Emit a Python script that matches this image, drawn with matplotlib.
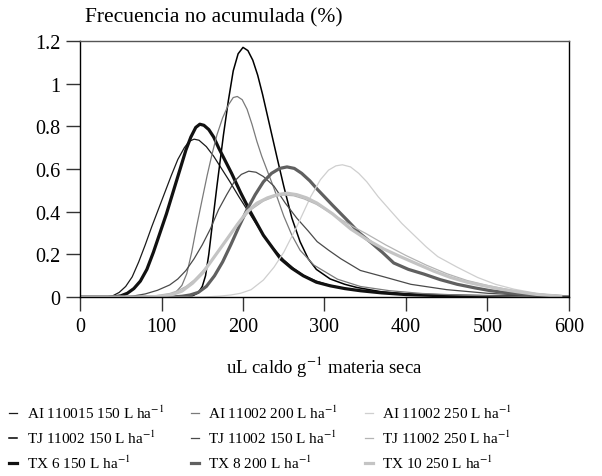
import matplotlib
matplotlib.use("Agg")
import matplotlib.pyplot as plt
from matplotlib.ticker import FuncFormatter

plt.rcParams['font.family'] = ['Liberation Serif', 'DejaVu Serif']
plt.rcParams['mathtext.fontset'] = 'stix'

# data (x in uL/g, y in %)
labels = ['AI 110015 150 L ha$^{-1}$', 'TJ 11002 150 L ha$^{-1}$', 'TX 6 150 L ha$^{-1}$',
          'AI 11002 200 L ha$^{-1}$', 'TJ 11002 150 L ha$^{-1}$', 'TX 8 200 L ha$^{-1}$',
          'AI 11002 250 L ha$^{-1}$', 'TJ 11002 250 L ha$^{-1}$', 'TX 10 250 L ha$^{-1}$']

ai110015_x = [0, 30, 40, 48, 56, 64, 72, 80, 88, 96, 104, 112, 120, 128, 134, 140, 146, 155, 164,
              174, 184, 195, 205, 215, 225, 237, 250, 262, 275, 290, 305, 325, 350, 380, 420,
              470, 530, 600]
ai110015_y = [0, 0, 0.006, 0.022, 0.05, 0.095, 0.165, 0.245, 0.33, 0.41, 0.49, 0.57, 0.645, 0.70,
              0.73, 0.74, 0.735, 0.705, 0.66, 0.60, 0.54, 0.47, 0.41, 0.35, 0.29, 0.23, 0.175,
              0.135, 0.10, 0.075, 0.057, 0.04, 0.028, 0.018, 0.01, 0.005, 0.002, 0]

tj150_x = [0, 125, 138, 145, 150, 154, 158, 162, 168, 176, 182, 188, 194, 200, 206, 212, 218, 224,
           230, 236, 242, 250, 260, 270, 280, 290, 307, 325, 340, 370, 400, 450, 500, 600]
tj150_y = [0, 0, 0.006, 0.02, 0.05, 0.1, 0.2, 0.33, 0.52, 0.76, 0.92, 1.06, 1.14, 1.17, 1.155,
           1.11, 1.04, 0.95, 0.85, 0.75, 0.65, 0.52, 0.37, 0.26, 0.18, 0.13, 0.085, 0.06, 0.045,
           0.025, 0.015, 0.007, 0.004, 0]

tx6_x = [0, 40, 50, 58, 66, 74, 82, 90, 98, 106, 114, 122, 130, 136, 142, 147, 152, 158, 164,
         170, 178, 186, 197, 209, 225, 246, 260, 274, 290, 307, 325, 344, 370, 400, 450, 500,
         550, 600]
tx6_y = [0, 0, 0.006, 0.018, 0.04, 0.075, 0.13, 0.21, 0.30, 0.39, 0.49, 0.59, 0.69, 0.75, 0.795,
         0.81, 0.805, 0.785, 0.75, 0.70, 0.64, 0.58, 0.49, 0.40, 0.29, 0.18, 0.135, 0.10, 0.07,
         0.053, 0.04, 0.03, 0.02, 0.012, 0.006, 0.003, 0.001, 0]

ai200_x = [0, 95, 110, 118, 125, 131, 137, 143, 150, 156, 162, 168, 175, 182, 188, 193, 199, 205,
           211, 217, 223, 230, 238, 250, 260, 270, 287, 316, 344, 380, 420, 470, 530, 600]
ai200_y = [0, 0, 0.008, 0.025, 0.055, 0.11, 0.21, 0.33, 0.46, 0.57, 0.67, 0.76, 0.84, 0.90,
           0.935, 0.94, 0.925, 0.88, 0.81, 0.73, 0.66, 0.59, 0.51, 0.38, 0.29, 0.22, 0.15, 0.084,
           0.05, 0.03, 0.017, 0.009, 0.004, 0]

tj150b_x = [0, 50, 65, 80, 95, 110, 120, 130, 140, 150, 160, 170, 180, 190, 198, 207, 216, 225,
            238, 252, 266, 280, 291, 305, 320, 344, 373, 406, 450, 500, 550, 600]
tj150b_y = [0, 0, 0.005, 0.015, 0.032, 0.057, 0.085, 0.125, 0.18, 0.245, 0.32, 0.41, 0.48,
            0.545, 0.575, 0.59, 0.585, 0.565, 0.52, 0.44, 0.37, 0.31, 0.26, 0.22, 0.18, 0.125,
            0.095, 0.06, 0.035, 0.018, 0.008, 0]

tx8_x = [0, 110, 125, 135, 145, 155, 165, 175, 185, 195, 205, 215, 225, 235, 245, 254, 263, 272,
         282, 291, 310, 328, 343, 357, 371, 385, 403, 422, 442, 463, 485, 504, 530, 560, 590]
tx8_y = [0, 0, 0.004, 0.01, 0.022, 0.05, 0.10, 0.165, 0.245, 0.33, 0.41, 0.48, 0.54, 0.58,
         0.603, 0.61, 0.603, 0.58, 0.545, 0.506, 0.43, 0.36, 0.30, 0.256, 0.21, 0.16, 0.13,
         0.108, 0.082, 0.06, 0.043, 0.03, 0.018, 0.01, 0.003]

ai250_x = [0, 150, 172, 185, 197, 210, 225, 238, 250, 266, 283, 295, 305, 314, 322, 332, 342, 352,
           366, 381, 395, 410, 425, 439, 463, 488, 510, 533, 560, 590]
ai250_y = [0, 0, 0.005, 0.01, 0.018, 0.035, 0.08, 0.14, 0.21, 0.33, 0.47, 0.55, 0.595, 0.615,
           0.62, 0.61, 0.58, 0.54, 0.47, 0.405, 0.345, 0.29, 0.235, 0.19, 0.14, 0.092, 0.06,
           0.037, 0.018, 0.005]

tj250_x = [0, 60, 90, 110, 120, 130, 140, 150, 165, 180, 195, 210, 225, 240, 250, 262, 275, 290,
           305, 320, 335, 350, 375, 400, 425, 450, 475, 500, 530, 560, 590]
tj250_y = [0, 0, 0.005, 0.017, 0.03, 0.05, 0.08, 0.12, 0.19, 0.27, 0.35, 0.41, 0.45, 0.473,
           0.478, 0.475, 0.46, 0.435, 0.40, 0.365, 0.33, 0.30, 0.245, 0.195, 0.15, 0.11, 0.078,
           0.055, 0.032, 0.016, 0.005]

tx10_x = [0, 80, 100, 113, 125, 138, 151, 165, 180, 193, 205, 217, 230, 242, 254, 266, 278, 291,
          310, 332, 352, 373, 393, 414, 434, 455, 475, 496, 517, 537, 560, 590]
tx10_y = [0, 0, 0.004, 0.012, 0.028, 0.065, 0.115, 0.19, 0.27, 0.34, 0.40, 0.44, 0.465, 0.48,
          0.487, 0.48, 0.465, 0.44, 0.39, 0.32, 0.27, 0.225, 0.19, 0.155, 0.122, 0.092, 0.07,
          0.053, 0.037, 0.025, 0.013, 0.004]

series = [(ai110015_x, ai110015_y), (tj150_x, tj150_y), (tx6_x, tx6_y),
          (ai200_x, ai200_y), (tj150b_x, tj150b_y), (tx8_x, tx8_y),
          (ai250_x, ai250_y), (tj250_x, tj250_y), (tx10_x, tx10_y)]
colors = ['#1a1a1a', '#000000', '#111111',
          '#7a7a7a', '#4a4a4a', '#606060',
          '#cfcfcf', '#b4b4b4', '#c4c4c4']
widths = [0.9, 1.1, 2.3, 0.9, 0.9, 2.3, 0.9, 0.9, 2.3]

fig = plt.figure(figsize=(6.02, 4.77), dpi=100)
ax = fig.add_axes([0.133, 0.375, 0.812, 0.537])

for (xs, ys), c, w, lab in zip(series, colors, widths, labels):
    ax.plot(xs, ys, color=c, lw=w, label=lab, solid_joinstyle='round')

ax.set_xlim(0, 600)
ax.set_ylim(0, 1.2)
ax.set_xticks([0, 100, 200, 300, 400, 500, 600])
ax.set_yticks([0, 0.2, 0.4, 0.6, 0.8, 1.0, 1.2])
ax.yaxis.set_major_formatter(FuncFormatter(lambda v, p: '%g' % round(v, 1)))
ax.tick_params(direction='out', length=10, width=1, color='#333333', labelsize=14.5, pad=4)
for s in ax.spines.values():
    s.set_linewidth(1)
ax.spines['top'].set_color('#555555')

fig.text(0.141, 0.962, 'Frecuencia no acumulada (%)', fontsize=15.5, ha='left', va='center')
fig.text(0.539, 0.231, 'uL caldo g$^{-1}$ materia seca', fontsize=13.5, ha='center', va='center')

fig.legend(loc='upper left', bbox_to_anchor=(0.015, 0.151), ncol=3, frameon=False,
           fontsize=11, handlelength=0.55, handletextpad=0.6, columnspacing=1.75,
           labelspacing=0.5, borderaxespad=0, borderpad=0)

fig.savefig('out.png', dpi=100)
